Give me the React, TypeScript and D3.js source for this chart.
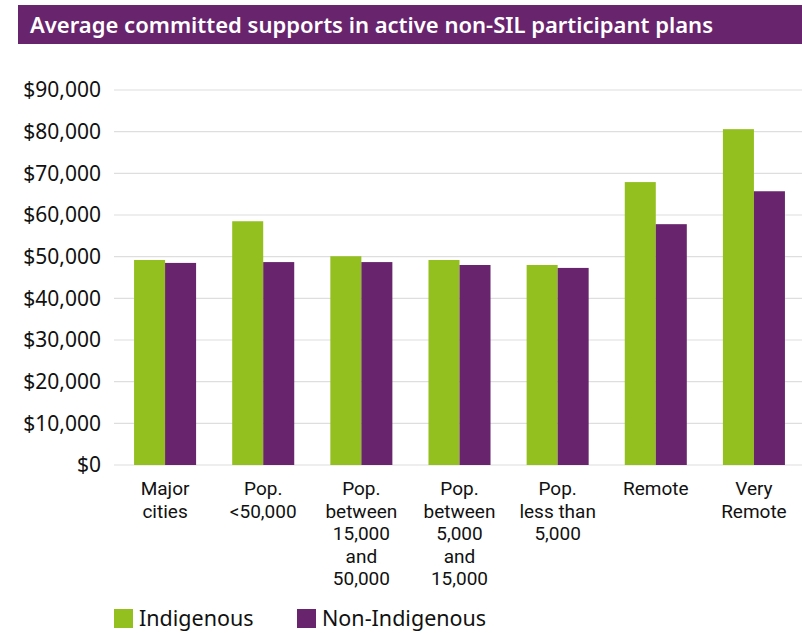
import React from "react";
import * as d3 from "d3";

const categories: string[][] = [
  ["Major", "cities"],
  ["Pop.", "<50,000"],
  ["Pop.", "between", "15,000", "and", "50,000"],
  ["Pop.", "between", "5,000", "and", "15,000"],
  ["Pop.", "less than", "5,000"],
  ["Remote"],
  ["Very", "Remote"],
];
const categoryKeys = ["major", "lt50", "15to50", "5to15", "lt5", "remote", "veryremote"];
const indigenous = [49200, 58500, 50100, 49200, 48000, 67900, 80600];
const nonIndigenous = [48500, 48700, 48700, 48000, 47300, 57800, 65700];
const seriesNames = ["Indigenous", "Non-Indigenous"];
const yTicks = [0, 10000, 20000, 30000, 40000, 50000, 60000, 70000, 80000, 90000];
const title = "Average committed supports in active non-SIL participant plans";

const GREEN = "#93c01f";
const PURPLE = "#68246d";
const FONT = "'Noto Sans', sans-serif";
const LABEL_FONT = "Roboto, 'Noto Sans', sans-serif";

export default function App() {
  const W = 802;
  const H = 633;
  const x0 = d3.scaleBand<string>().domain(categoryKeys).range([116, 803]).padding(0);
  const groupFrac = 0.632;
  const x1 = d3
    .scaleBand<string>()
    .domain(seriesNames)
    .range([0, x0.bandwidth() * groupFrac])
    .padding(0);
  const y = d3.scaleLinear().domain([0, 90000]).range([465, 90]);
  const fmt = (v: number) => "$" + d3.format(",")(v);
  const colors = [GREEN, PURPLE];
  const data = [indigenous, nonIndigenous];
  const legendX = [114, 297];

  return (
    <svg width={W} height={H} style={{ display: "block", position: "absolute", left: 0, top: 0 }} fontFamily={FONT}>
      <rect x={0} y={0} width={W} height={H} fill="#fff" />
      <rect x={18} y={5} width={784} height={39} fill={PURPLE} />
      <text x={30} y={33} fill="#fff" fontSize={21.5} fontWeight={600} textLength={683} lengthAdjust="spacingAndGlyphs">
        {title}
      </text>
      {yTicks.map((t) => (
        <g key={t}>
          <line x1={114} x2={802} y1={y(t)} y2={y(t)} stroke="#dedede" strokeWidth={1.2} />
          <text x={101} y={y(t)} dy="0.35em" textAnchor="end" fontSize={21} fill="#111">
            {fmt(t)}
          </text>
        </g>
      ))}
      {categoryKeys.map((k, i) => {
        const gx = (x0(k) as number) + (x0.bandwidth() * (1 - groupFrac)) / 2;
        return (
          <g key={k}>
            {data.map((s, j) => (
              <rect
                key={j}
                x={gx + (x1(seriesNames[j]) as number)}
                y={y(s[i])}
                width={x1.bandwidth()}
                height={y(0) - y(s[i])}
                fill={colors[j]}
              />
            ))}
            <text textAnchor="middle" fontSize={19} fill="#111" fontFamily={LABEL_FONT}>
              {categories[i].map((line, li) => (
                <tspan key={li} x={(x0(k) as number) + x0.bandwidth() / 2} y={495 + li * 22.5}>
                  {line}
                </tspan>
              ))}
            </text>
          </g>
        );
      })}
      {seriesNames.map((n, j) => {
        const lx = legendX[j];
        return (
          <g key={n}>
            <rect x={lx} y={609} width={19} height={19} fill={colors[j]} />
            <text x={lx + 25} y={626} fontSize={21.5} fill="#111">
              {n}
            </text>
          </g>
        );
      })}
    </svg>
  );
}
